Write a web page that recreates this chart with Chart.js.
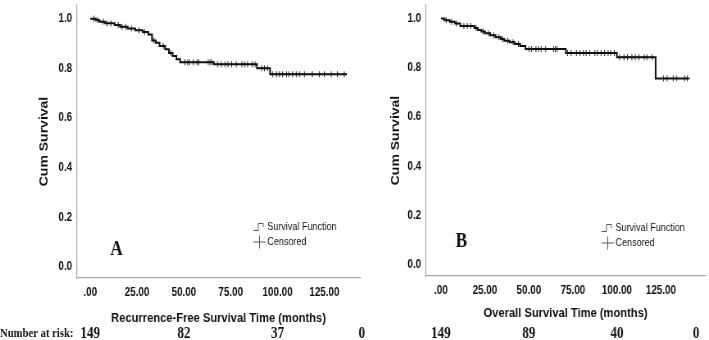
<!DOCTYPE html>
<html>
<head>
<meta charset="utf-8">
<script src="https://cdn.jsdelivr.net/npm/chart.js@4.4.1/dist/chart.umd.min.js"></script>
<style>
  html, body { margin: 0; padding: 0; background: #fff; }
  #wrap { position: relative; width: 709px; height: 340px; overflow: hidden; }
  /* the original figure is squeezed horizontally, so draw wide and squeeze */
  canvas { position: absolute; top: 0; transform: scaleX(0.82); transform-origin: 0 0; }
  #chartRFS { left: 0; }
  #chartOS { left: 372px; }
</style>
</head>
<body>
<div id="wrap">
  <canvas id="chartRFS" width="454" height="340"></canvas>
  <canvas id="chartOS" width="411" height="340"></canvas>
</div>
<script>
// Axis ticks
const monthTicks = [0, 25, 50, 75, 100, 125];
const survivalTicks = [0, 0.2, 0.4, 0.6, 0.8, 1.0];

// Panel A - recurrence-free survival (steps)
const rfsEventMonths = [0, 3, 5, 8, 13, 16, 20, 24, 28, 31, 33, 35, 37, 40, 42, 44, 46, 48, 66, 89, 96];
const rfsSurvival = [1.0, 0.994, 0.988, 0.981, 0.974, 0.967, 0.960, 0.953, 0.946, 0.936, 0.912, 0.903, 0.890, 0.877, 0.862, 0.850, 0.836, 0.824, 0.816, 0.800, 0.776];
const rfsLastMonth = 137;
const rfsCensoredMonths = [2, 4, 7, 9, 11, 15, 17, 19, 22, 26, 29, 34, 39, 43,
  50.5, 52, 53, 55, 57, 58, 63, 64, 65, 68, 70, 72, 73.5, 75.5, 78, 81, 82.5, 84, 86.5, 88,
  91.5, 93, 94.7, 97.3, 99.5, 101, 102.7, 104.8, 106, 108, 110, 111.7, 114.4, 118.6, 122.3, 125, 128.7, 132, 135.6];

// Panel B - overall survival
const osEventMonths = [0, 2, 5, 8, 11, 19, 21, 23, 25, 28, 31, 34, 36, 39, 42, 45, 48, 71, 100, 122];
const osSurvival = [1.0, 0.993, 0.987, 0.980, 0.970, 0.962, 0.954, 0.947, 0.940, 0.932, 0.924, 0.917, 0.910, 0.904, 0.897, 0.889, 0.876, 0.860, 0.843, 0.757];
const osLastMonth = 141;
const osCensoredMonths = [3, 6, 9, 13, 15, 17, 20, 24, 27, 30, 33, 35, 38, 41, 44,
  50, 51.5, 54, 55.5, 57, 59.5, 64, 65, 66,
  72, 74, 77, 79, 81, 82.5, 84.5, 87.5, 89, 91, 93, 95, 96.5, 98.5,
  101.5, 104, 106, 108.5, 110.5, 112.5, 115.5, 117, 120,
  126.5, 128.5, 132, 134, 138.5, 140];

// Number at risk row
const riskMonths = [0, 50, 100, 145];
const rfsAtRisk = [149, 82, 37, 0];
const osAtRisk = [149, 89, 40, 0];

const legendLabels = ['Survival Function', 'Censored'];

const sans = '"Liberation Sans", Arial, sans-serif';
const serif = '"Liberation Serif", "Times New Roman", serif';

// survival value of the step curve at month t
function stepAt(months, surv, t) {
  let s = surv[0];
  for (let i = 0; i < months.length; i++) {
    if (months[i] <= t) s = surv[i];
  }
  return s;
}

function serifText(ctx, text, x, y, size, align) {
  ctx.save();
  ctx.fillStyle = '#111';
  ctx.font = 'bold ' + size + 'px ' + serif;
  ctx.textBaseline = 'middle';
  ctx.textAlign = align;
  ctx.fillText(text, x, y);
  ctx.restore();
}

const overlayPlugin = {
  id: 'kmOverlay',
  afterDraw(chart) {
    const o = chart.options.plugins.kmOverlay;
    const ctx = chart.ctx;
    const area = chart.chartArea;
    const x = chart.scales.x;

    // panel letter
    serifText(ctx, o.letter, area.left + o.letterPos[0], area.bottom + o.letterPos[1], 21, 'center');

    // legend
    const lx = area.right + o.legendPos[0];
    const ly = area.bottom + o.legendPos[1];
    ctx.save();
    ctx.strokeStyle = '#555';
    ctx.lineWidth = 1;
    ctx.beginPath();
    ctx.moveTo(lx - 17, ly + 3.5);
    ctx.lineTo(lx - 11, ly + 3.5);
    ctx.lineTo(lx - 11, ly - 3.5);
    ctx.lineTo(lx - 5, ly - 3.5);
    ctx.lineTo(lx - 5, ly);
    ctx.moveTo(lx - 17, ly + 15);
    ctx.lineTo(lx - 2, ly + 15);
    ctx.moveTo(lx - 9.5, ly + 8.5);
    ctx.lineTo(lx - 9.5, ly + 21.5);
    ctx.stroke();
    ctx.fillStyle = '#111';
    ctx.font = '11px ' + sans;
    ctx.textBaseline = 'middle';
    ctx.textAlign = 'left';
    ctx.fillText(legendLabels[0], lx, ly);
    ctx.fillText(legendLabels[1], lx, ly + 15);
    ctx.restore();

    // number at risk
    if (o.riskLabel) serifText(ctx, o.riskLabel, 0, 334, 13, 'left');
    o.atRisk.forEach((n, i) => {
      serifText(ctx, String(n), x.getPixelForValue(riskMonths[i]), 334, 16, 'center');
    });
  }
};

function makeKmChart(canvasId, cfg) {
  const curve = cfg.months.map((t, i) => ({ x: t, y: cfg.surv[i] }));
  curve.push({ x: cfg.lastMonth, y: cfg.surv[cfg.surv.length - 1] });
  const censored = cfg.censored.map(t => ({ x: t, y: stepAt(cfg.months, cfg.surv, t) }));

  return new Chart(document.getElementById(canvasId), {
    type: 'scatter',
    data: {
      datasets: [{
        label: legendLabels[0],
        data: curve,
        showLine: true,
        stepped: true,
        borderColor: '#111',
        borderWidth: 2,
        pointRadius: 0
      }, {
        label: legendLabels[1],
        data: censored,
        showLine: false,
        pointStyle: 'cross',
        pointRadius: 3,
        borderColor: '#222',
        borderWidth: 1
      }]
    },
    options: {
      responsive: false,
      animation: false,
      layout: { padding: { left: 0, top: 2, right: cfg.padRight, bottom: 0 } },
      plugins: {
        legend: { display: false },
        tooltip: { enabled: false },
        kmOverlay: { letter: cfg.letter, letterPos: cfg.letterPos, legendPos: cfg.legendPos, riskLabel: cfg.riskLabel, atRisk: cfg.atRisk }
      },
      scales: {
        x: {
          type: 'linear',
          min: cfg.xMin,
          max: cfg.xMax,
          afterBuildTicks: s => { s.ticks = monthTicks.map(v => ({ value: v })); },
          afterFit: s => { s.height = cfg.xAxisHeight; },
          grid: { display: false, drawTicks: false },
          border: { display: true, color: '#a8a8a8', width: 1.2 },
          ticks: {
            padding: 7,
            color: '#111',
            maxRotation: 0,
            autoSkip: false,
            font: { family: sans, size: 12, weight: 'bold' },
            callback: v => v === 0 ? '.00' : v.toFixed(2)
          },
          title: {
            display: true,
            text: cfg.xTitle,
            color: '#111',
            font: { family: sans, size: 13.6, weight: 'bold' },
            padding: { top: 0, bottom: cfg.xTitlePad }
          }
        },
        y: {
          min: -0.045,
          max: 1.055,
          afterBuildTicks: s => { s.ticks = survivalTicks.map(v => ({ value: v })); },
          afterFit: s => {
            s.width = cfg.yAxisWidth;
            s.paddingTop = 0;
            s.paddingBottom = 0;
          },
          grid: { display: false, drawTicks: false },
          border: { display: true, color: '#a8a8a8', width: 1.2 },
          ticks: {
            padding: 6,
            color: '#111',
            font: { family: sans, size: 12, weight: 'bold' },
            callback: v => v.toFixed(1)
          },
          title: {
            display: true,
            text: 'Cum Survival',
            color: '#111',
            font: { family: sans, size: 14, weight: 'bold' },
            padding: { top: cfg.yTitlePad, bottom: 0 }
          }
        }
      }
    },
    plugins: [overlayPlugin]
  });
}

const chartRFS = makeKmChart('chartRFS', {
  months: rfsEventMonths, surv: rfsSurvival, lastMonth: rfsLastMonth, censored: rfsCensoredMonths,
  xMin: -7, xMax: 144, xAxisHeight: 62, yAxisWidth: 94, padRight: 15,
  xTitle: 'Recurrence-Free Survival Time (months)', xTitlePad: 14, yTitlePad: 46,
  letter: 'A', letterPos: [48, -28], legendPos: [-113, -51],
  riskLabel: 'Number at risk:', atRisk: rfsAtRisk
});

const chartOS = makeKmChart('chartOS', {
  months: osEventMonths, surv: osSurvival, lastMonth: osLastMonth, censored: osCensoredMonths,
  xMin: -8.4, xMax: 150, xAxisHeight: 64, yAxisWidth: 66, padRight: 1,
  xTitle: 'Overall Survival Time (months)', xTitlePad: 19, yTitlePad: 21,
  letter: 'B', letterPos: [43, -34], legendPos: [-109, -48],
  riskLabel: null, atRisk: osAtRisk
});
</script>
</body>
</html>
